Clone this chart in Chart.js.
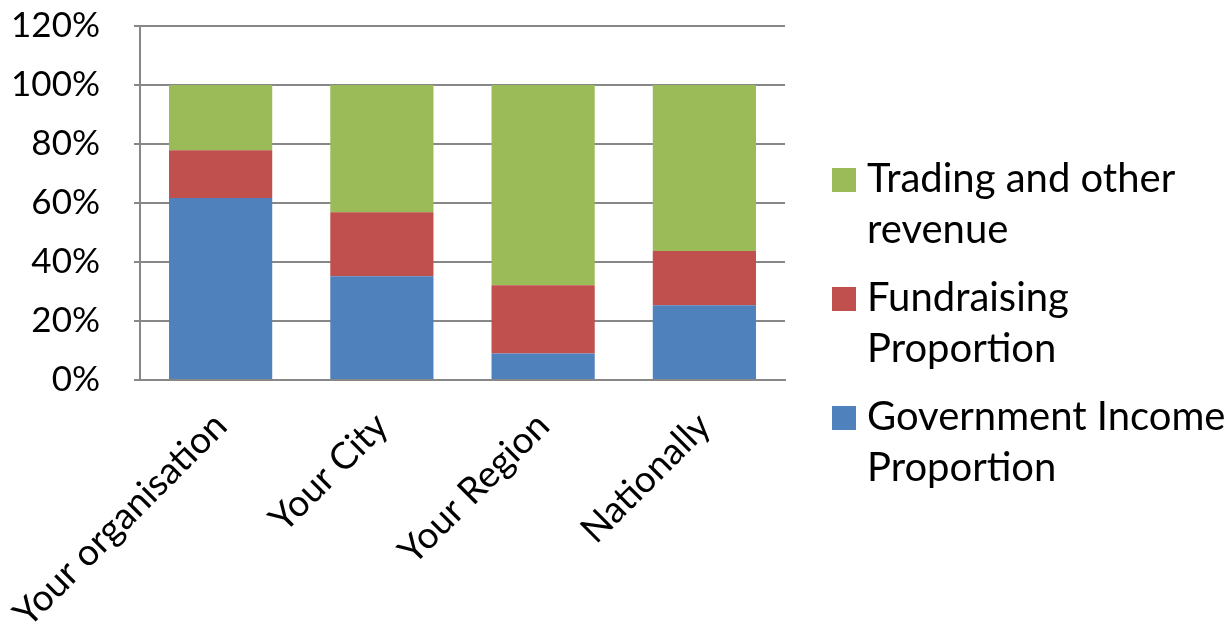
<!DOCTYPE html>
<html>
<head>
<meta charset="utf-8">
<script src="https://cdn.jsdelivr.net/npm/chart.js@4.4.1/dist/chart.umd.min.js"></script>
<style>
  html, body { margin: 0; padding: 0; background: #fff; }
  #wrap { position: relative; width: 1226px; height: 631px; }
  #legend { position: absolute; left: 832px; top: 0; font-family: Lato, sans-serif; font-size: 40px; line-height: 51px; color: #000; }
  .item { position: absolute; left: 0; width: 400px; padding-left: 35px; }
  .swatch { position: absolute; left: 0; top: 16px; width: 24px; height: 24px; }
</style>
</head>
<body>
<div id="wrap">
  <canvas id="chart" width="1226" height="631"></canvas>
  <div id="legend"></div>
</div>
<script>
const categories = ["Your organisation", "Your City", "Your Region", "Nationally"]
const governmentIncome = [61.7, 35.2, 9.0, 25.3]
const fundraising = [16.2, 21.7, 23.1, 18.4]
const tradingOther = [22.1, 43.1, 67.9, 56.3]
const yTicks = [0, 20, 40, 60, 80, 100, 120]

const series = [
  { label: "Government Income Proportion", lines: ["Government Income", "Proportion"], data: governmentIncome, color: "#4F81BD" },
  { label: "Fundraising Proportion", lines: ["Fundraising", "Proportion"], data: fundraising, color: "#C0504D" },
  { label: "Trading and other revenue", lines: ["Trading and other", "revenue"], data: tradingOther, color: "#9BBB59" },
]

const yFont = { family: "Lato, sans-serif", size: 35 }
const xFont = { family: "Lato, sans-serif", size: 37 }
const gridColor = "#878787"

const chart = new Chart(document.getElementById("chart"), {
  type: "bar",
  data: {
    labels: categories,
    datasets: series.map(s => ({
      label: s.label,
      data: s.data,
      backgroundColor: s.color,
      borderWidth: 0,
      barPercentage: 0.64,
      categoryPercentage: 1,
    }))
  },
  options: {
    responsive: false,
    animation: false,
    layout: { padding: { top: 26, right: 441, left: 0, bottom: 0 } },
    plugins: {
      legend: { display: false },
      tooltip: { enabled: false }
    },
    scales: {
      x: {
        stacked: true,
        grid: { display: false },
        border: { display: true, color: gridColor, width: 2 },
        ticks: { color: "#000", font: xFont, minRotation: 45, maxRotation: 45, padding: 16 },
        afterFit(scale) {
          scale.height = 251
          scale.paddingLeft = 0
          scale.paddingRight = 0
        }
      },
      y: {
        stacked: true,
        min: 0,
        max: 120,
        afterBuildTicks(scale) { scale.ticks = yTicks.map(v => ({ value: v })) },
        grid: { color: gridColor, lineWidth: 2, tickLength: 6 },
        border: { display: true, color: gridColor, width: 2 },
        ticks: { color: "#000", font: yFont, padding: 34, callback: v => v + "%" },
        afterFit(scale) {
          scale.width = 140
          scale.paddingTop = 0
          scale.paddingBottom = 0
        }
      }
    }
  }
})

// legend on the right, reversed order like the original
const legend = document.getElementById("legend")
series.slice().reverse().forEach((s, i) => {
  const item = document.createElement("div")
  item.className = "item"
  item.style.top = (152 + i * 119) + "px"
  item.innerHTML = '<span class="swatch" style="background:' + s.color + '"></span>' + s.lines.join("<br>")
  legend.appendChild(item)
})
</script>
</body>
</html>
